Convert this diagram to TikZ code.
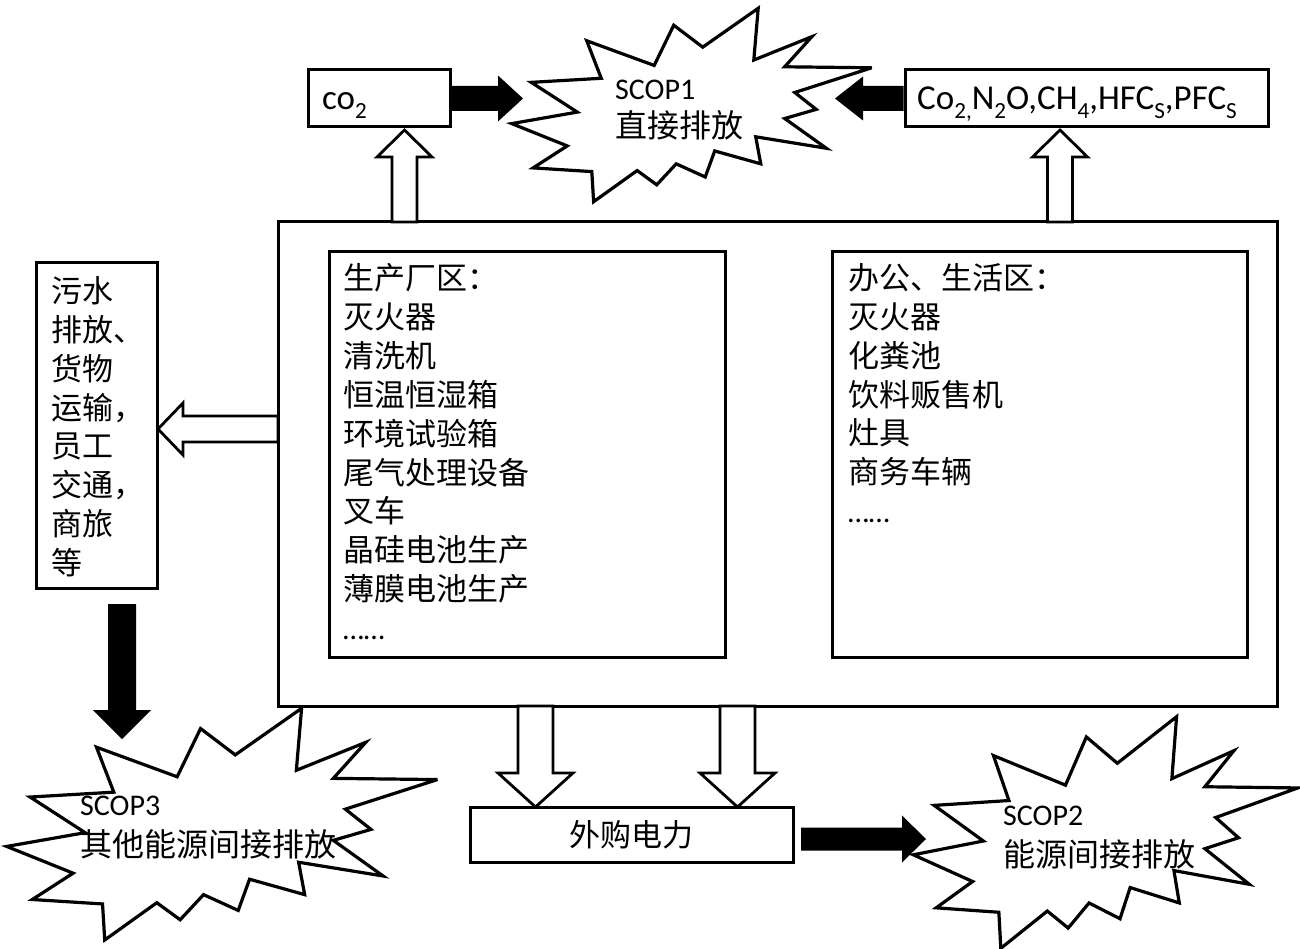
\documentclass[tikz,border=0pt]{standalone}
\usepackage{fontspec}
\setmainfont{Carlito}
\newfontfamily\cjk{Noto Sans CJK SC}
\usetikzlibrary{calc}

\newcommand\lsub[1]{\raisebox{-0.25em}{\scalebox{0.66}{#1}}}

\tikzset{
  box/.style={draw=black, line width=3pt, fill=white, inner sep=0pt},
  hollowarr/.style={draw=black, line width=2.8pt, fill=white, line join=miter},
  solidarr/.style={fill=black, draw=none},
  sealline/.style={draw=black, line width=3.2pt, fill=white, line join=miter, miter limit=6},
  cjkline/.style={font=\cjk\fontsize{31}{31}\selectfont, inner sep=0pt, anchor=base west},
  cjkstar/.style={font=\cjk\fontsize{32}{32}\selectfont, inner sep=0pt, anchor=base west},
  latline/.style={font=\fontsize{30}{30}\selectfont, inner sep=0pt, anchor=base west},
  gasline/.style={font=\fontsize{35}{35}\selectfont, inner sep=0pt, anchor=base west},
}

% block arrow: #1 style, #2 start, #3 tip, #4 shaft half width, #5 head half width, #6 head length
\newcommand\blockarrow[6]{%
  \path ($(#3)!#6!(#2)$) coordinate (hb);
  \path[#1] ($(#2)!#4!90:(#3)$) -- ($(hb)!#4!90:(#3)$) -- ($(hb)!#5!90:(#3)$) -- (#3)
    -- ($(hb)!#5!-90:(#3)$) -- ($(hb)!#4!-90:(#3)$) -- ($(#2)!#4!-90:(#3)$) -- cycle;
}

% explosion shape: #1 name, #2 x0, #3 y0, #4 width, #5 height
\newcommand\explosion[5]{%
  \begin{scope}[shift={(#2,#3)}, x=#4pt, y=-#5pt]
    \path[sealline] (0.5306,0.2010) -- (0.6847,0) -- (0.6725,0.2675) -- (0.8337,0.1469)
      -- (0.7583,0.3024) -- (1,0.3076) -- (0.7863,0.4353) -- (0.8458,0.5227)
      -- (0.7583,0.5699) -- (0.8739,0.7237) -- (0.6778,0.6644) -- (0.6918,0.8042)
      -- (0.5639,0.7377) -- (0.5376,0.8723) -- (0.4570,0.8042) -- (0.4028,0.9126)
      -- (0.3485,0.8391) -- (0.2276,1) -- (0.2225,0.8444) -- (0.0595,0.8252)
      -- (0.1542,0.7116) -- (0,0.5962) -- (0.1822,0.5367) -- (0.0543,0.3829)
      -- (0.2487,0.3619) -- (0.2084,0.1678) -- (0.3958,0.2955) -- (0.4501,0.0874) -- cycle;
    \coordinate (#1) at (0.5,0.5);
  \end{scope}
}

\begin{document}
\begin{tikzpicture}[x=1pt, y=-1pt]
\useasboundingbox[fill=white] (0,0) rectangle (1300,949);

% boxes
\node[box, minimum width=999pt, minimum height=484pt] (frame) at (777.5,464) {};
\node[box, minimum width=396pt, minimum height=405pt] (plant) at (527,454.5) {};
\node[box, minimum width=415pt, minimum height=405pt] (office) at (1039.5,454.5) {};
\node[box, minimum width=121pt, minimum height=325pt] (other) at (96.5,425.5) {};
\node[box, minimum width=142pt, minimum height=57pt] (co2) at (379,98.5) {};
\node[box, minimum width=363pt, minimum height=57pt] (gas) at (1086.5,98.5) {};
\node[box, minimum width=323pt, minimum height=55pt] (power) at (631.5,834.5) {};

% connector end points
\coordinate (s1L) at (523,98.5);
\coordinate (s1R) at (835,98.5);
\coordinate (u1b) at (404.5,222);
\coordinate (u1t) at (404.5,130);
\coordinate (u2b) at (1060,222);
\coordinate (u2t) at (1060,130);
\coordinate (lb) at (278,429);
\coordinate (lt) at (158,429);
\coordinate (d1b) at (535.5,706);
\coordinate (d1t) at (535.5,807);
\coordinate (d2b) at (737.5,706);
\coordinate (d2t) at (737.5,807);
\coordinate (s3b) at (122,604);
\coordinate (s3t) at (122,739);
\coordinate (s2b) at (801,839);
\coordinate (s2t) at (926,839);

% arrows
\blockarrow{solidarr}{co2.east}{s1L}{12.5pt}{23pt}{25pt}
\blockarrow{solidarr}{gas.west}{s1R}{12.5pt}{22pt}{28pt}
\blockarrow{hollowarr}{u1b}{u1t}{12.5pt}{27.5pt}{27pt}
\blockarrow{hollowarr}{u2b}{u2t}{12.5pt}{27.5pt}{27pt}
\blockarrow{hollowarr}{lb}{lt}{13pt}{26pt}{25pt}
\blockarrow{hollowarr}{d1b}{d1t}{17.5pt}{37.5pt}{34pt}
\blockarrow{hollowarr}{d2b}{d2t}{17.5pt}{37.5pt}{34pt}
\blockarrow{solidarr}{s3b}{s3t}{14pt}{29pt}{29pt}
\blockarrow{solidarr}{s2b}{s2t}{11.5pt}{23.5pt}{24pt}

% explosions
\explosion{scop1}{511.7}{8.3}{360}{193.4}
\explosion{scop3}{6.7}{708.3}{430.7}{231.7}
\explosion{scop2}{913.3}{716.7}{384.5}{231.6}

% star texts
\node[latline] (s1a) at (615,100) {SCOP1};
\node[cjkstar] (s1c) at (615,138) {直接排放};
\node[latline] (s3a) at (80,815) {SCOP3};
\node[cjkstar] (s3c) at (80,856) {其他能源间接排放};
\node[latline] (s2a) at (1003,825) {SCOP2};
\node[cjkstar] (s2c) at (1003,866) {能源间接排放};

% box texts
\node[gasline] (co2t) at (322,110) {co\lsub{2}};
\node[gasline] (gast) at (917,110) {Co\lsub{2,}N\lsub{2}O,CH\lsub{4},HFC\lsub{S},PFC\lsub{S}};
\node[font=\cjk\fontsize{31}{31}\selectfont, inner sep=0pt] (powert) at (power.center) {外购电力};

\foreach \t [count=\i from 0] in {生产厂区：,灭火器,清洗机,恒温恒湿箱,环境试验箱,尾气处理设备,叉车,晶硅电池生产,薄膜电池生产}
  \node[cjkline] (p\i) at (343,289.5+\i*38.9) {\t};
\node[latline] (p9) at (343,289.5+9*38.9) {……};

\foreach \t [count=\i from 0] in {办公、生活区：,灭火器,化粪池,饮料贩售机,灶具,商务车辆}
  \node[cjkline] (o\i) at (848,290+\i*38.7) {\t};
\node[latline] (o6) at (848,290+6*38.7) {……};

\foreach \t [count=\i from 0] in {污水,排放、,货物,运输，,员工,交通，,商旅,等}
  \node[cjkline] (e\i) at (51,302.5+\i*38.86) {\t};

\end{tikzpicture}
\end{document}
